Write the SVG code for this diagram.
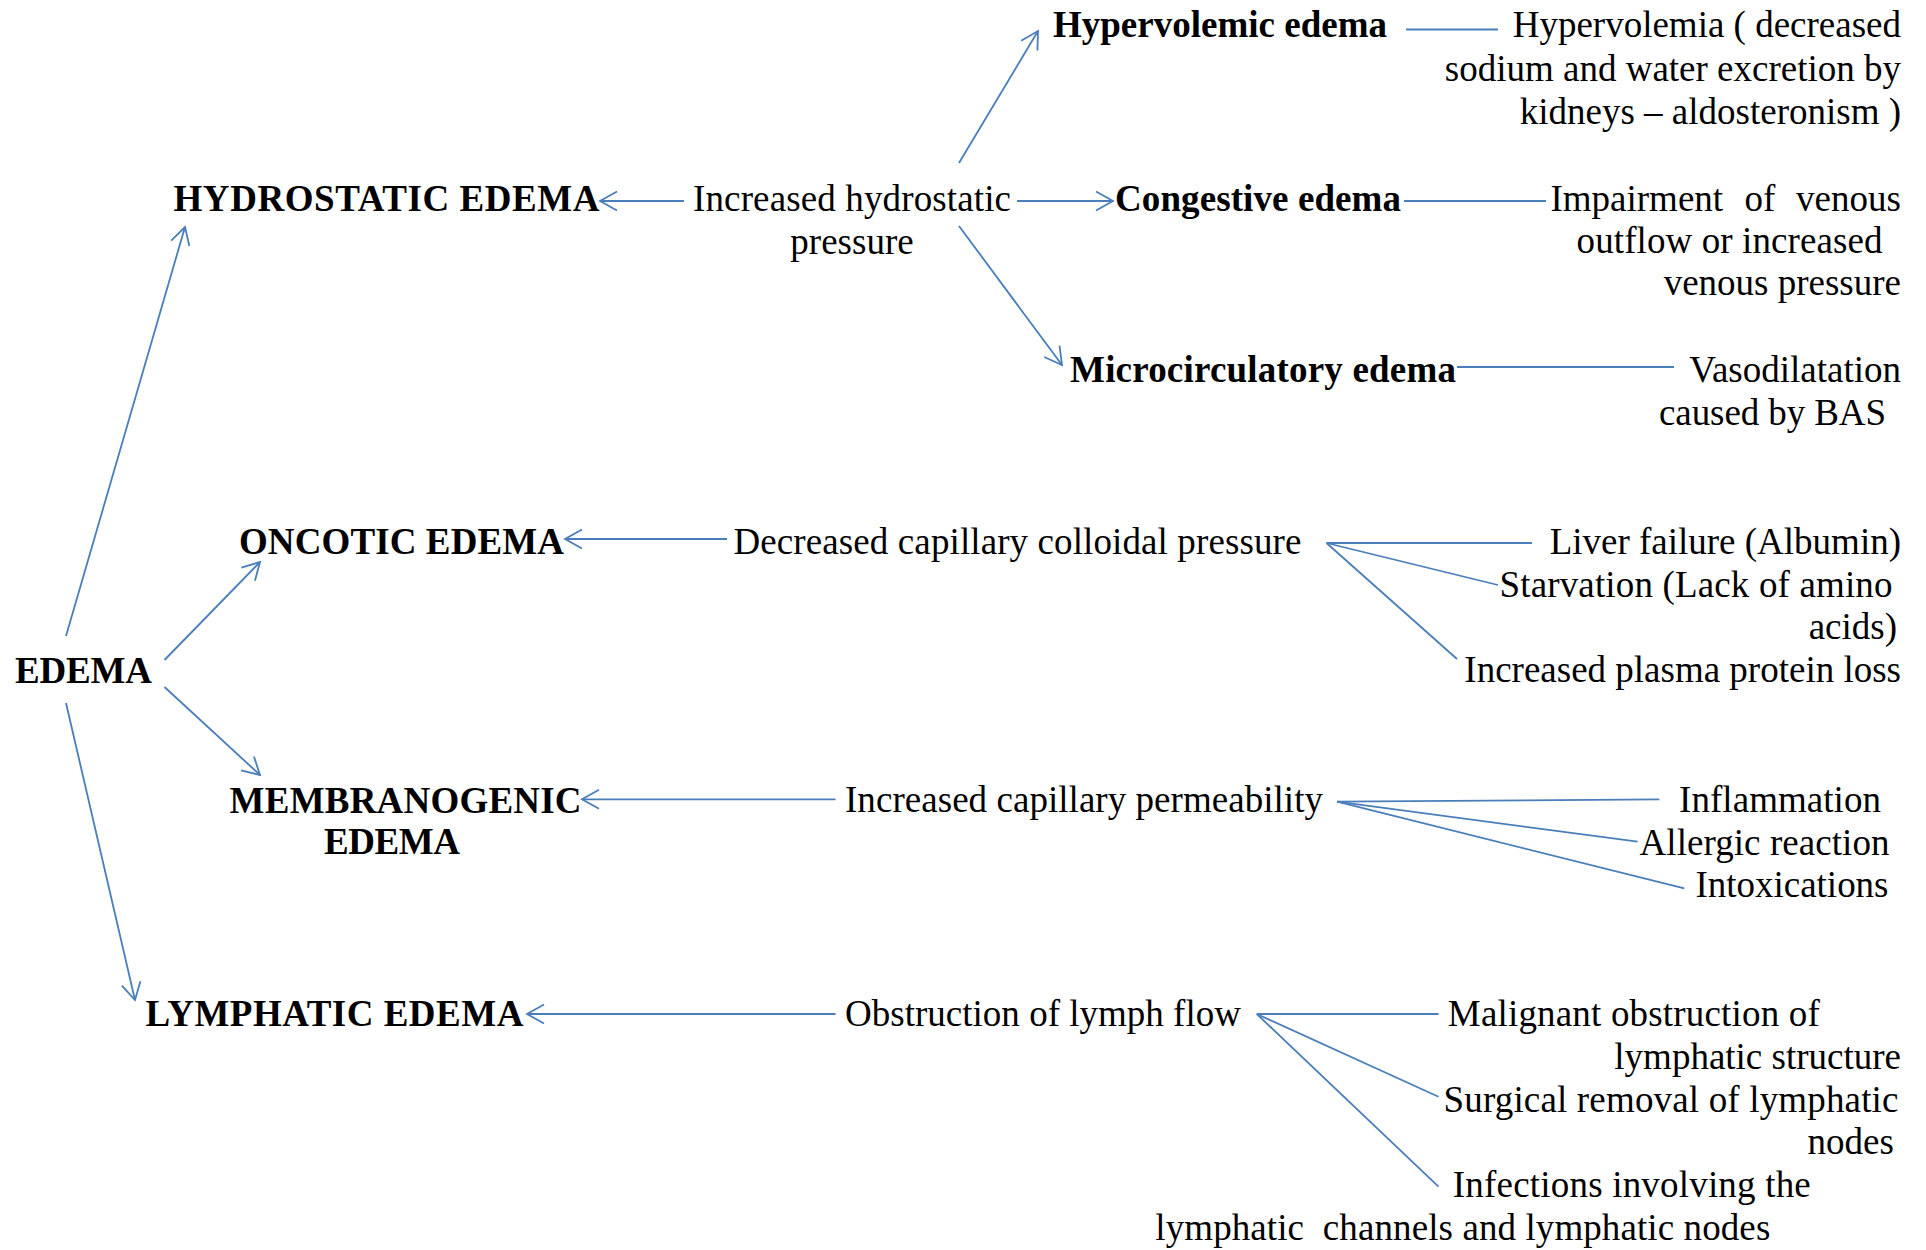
<svg xmlns="http://www.w3.org/2000/svg" width="1926" height="1250" viewBox="0 0 1926 1250">
<style>
  text { font-family: "Liberation Serif", "Times New Roman", serif; font-size: 37px; fill: #000; }
  .b { font-weight: bold; }
  .r { text-anchor: end; }
  .m { text-anchor: middle; }
  .c line { stroke: #4A7EBB; stroke-width: 1.8; fill: none; }
  .c line.a { marker-end: url(#arr); }
</style>
<defs>
  <marker id="arr" viewBox="0 0 22 22" refX="20" refY="11" markerWidth="22" markerHeight="22" markerUnits="userSpaceOnUse" orient="auto">
    <path d="M3,1.5 L20,11 L3,20.5" fill="none" stroke="#4A7EBB" stroke-width="1.8"/>
  </marker>
</defs>
<rect width="1926" height="1250" fill="#fff"/>

<g id="connectors" class="c">
  <line class="a" x1="66" y1="636" x2="185" y2="227"/>
  <line class="a" x1="164.5" y1="660" x2="260" y2="562"/>
  <line class="a" x1="164.5" y1="687" x2="260" y2="775"/>
  <line class="a" x1="66" y1="703" x2="135" y2="1000"/>
  <line class="a" x1="684" y1="201" x2="600" y2="201"/>
  <line class="a" x1="959" y1="163" x2="1038" y2="31"/>
  <line class="a" x1="1017" y1="201" x2="1113" y2="201"/>
  <line class="a" x1="959" y1="226" x2="1062" y2="365"/>
  <line x1="1406" y1="29.5" x2="1498" y2="29.5"/>
  <line x1="1404" y1="201" x2="1546" y2="201"/>
  <line x1="1457" y1="367" x2="1674" y2="367"/>
  <line class="a" x1="727" y1="539" x2="565" y2="539"/>
  <line x1="1326.5" y1="543" x2="1532" y2="543"/>
  <line x1="1326.5" y1="543" x2="1498" y2="585"/>
  <line x1="1326.5" y1="543" x2="1457" y2="659"/>
  <line class="a" x1="835.5" y1="799.3" x2="582" y2="799.3"/>
  <line x1="1337" y1="801.7" x2="1659.4" y2="799.3"/>
  <line x1="1337" y1="801.7" x2="1637.6" y2="841.7"/>
  <line x1="1337" y1="801.7" x2="1684.3" y2="888.3"/>
  <line class="a" x1="835.5" y1="1014" x2="527" y2="1014"/>
  <line x1="1256.8" y1="1014" x2="1438.5" y2="1014"/>
  <line x1="1256.8" y1="1014" x2="1438.5" y2="1096.7"/>
  <line x1="1256.8" y1="1014" x2="1438.5" y2="1186.7"/>
</g>

<g id="edema"><text class="b" x="15" y="683" textLength="137">EDEMA</text></g>

<g id="hydrostatic"><text class="b" x="173.5" y="211" textLength="426">HYDROSTATIC EDEMA</text></g>
<g id="hydro-cause">
  <text x="693" y="211" textLength="318">Increased hydrostatic</text>
  <text class="m" x="852" y="254">pressure</text>
</g>
<g id="hypervolemic"><text class="b" x="1053" y="37" textLength="334">Hypervolemic edema</text></g>
<g id="hypervolemia">
  <text class="r" x="1901" y="37">Hypervolemia ( decreased</text>
  <text class="r" x="1901" y="81">sodium and water excretion by</text>
  <text class="r" x="1901" y="124">kidneys – aldosteronism )</text>
</g>
<g id="congestive"><text class="b" x="1115" y="211" textLength="286">Congestive edema</text></g>
<g id="impairment">
  <text y="211"><tspan x="1550.5">Impairment</tspan><tspan x="1744.5">of</tspan><tspan x="1796">venous</tspan></text>
  <text x="1576.6" y="253" textLength="306">outflow or increased</text>
  <text class="r" x="1901" y="295">venous pressure</text>
</g>
<g id="microcirculatory"><text class="b" x="1070" y="382" textLength="386">Microcirculatory edema</text></g>
<g id="vasodilatation">
  <text class="r" x="1901" y="382">Vasodilatation</text>
  <text x="1659" y="425" textLength="227">caused by BAS</text>
</g>

<g id="oncotic"><text class="b" x="239" y="554" textLength="325">ONCOTIC EDEMA</text></g>
<g id="oncotic-cause"><text x="733.4" y="554" textLength="568">Decreased capillary colloidal pressure</text></g>
<g id="liver"><text class="r" x="1901" y="554">Liver failure (Albumin)</text></g>
<g id="starvation">
  <text x="1499.5" y="597" textLength="393">Starvation (Lack of amino</text>
  <text x="1808.7" y="639">acids)</text>
</g>
<g id="protein-loss"><text class="r" x="1901" y="682">Increased plasma protein loss</text></g>

<g id="membranogenic">
  <text class="b" x="229.6" y="813" textLength="352">MEMBRANOGENIC</text>
  <text class="b" x="324" y="854" textLength="136">EDEMA</text>
</g>
<g id="membrano-cause"><text x="845" y="812" textLength="478">Increased capillary permeability</text></g>
<g id="inflammation"><text x="1679" y="812" textLength="202">Inflammation</text></g>
<g id="allergic"><text x="1639.5" y="855" textLength="250">Allergic reaction</text></g>
<g id="intoxications"><text x="1695.5" y="897" textLength="193">Intoxications</text></g>

<g id="lymphatic"><text class="b" x="145.4" y="1026" textLength="378">LYMPHATIC EDEMA</text></g>
<g id="lymph-cause"><text x="845" y="1026" textLength="396">Obstruction of lymph flow</text></g>
<g id="malignant">
  <text x="1447.8" y="1026" textLength="372">Malignant obstruction of</text>
  <text class="r" x="1901" y="1069">lymphatic structure</text>
</g>
<g id="surgical">
  <text x="1443.5" y="1112" textLength="455">Surgical removal of lymphatic</text>
  <text x="1807.5" y="1154">nodes</text>
</g>
<g id="infections">
  <text x="1452.8" y="1197" textLength="358">Infections involving the</text>
  <text x="1155.3" y="1240" textLength="615" xml:space="preserve">lymphatic  channels and lymphatic nodes</text>
</g>
</svg>
